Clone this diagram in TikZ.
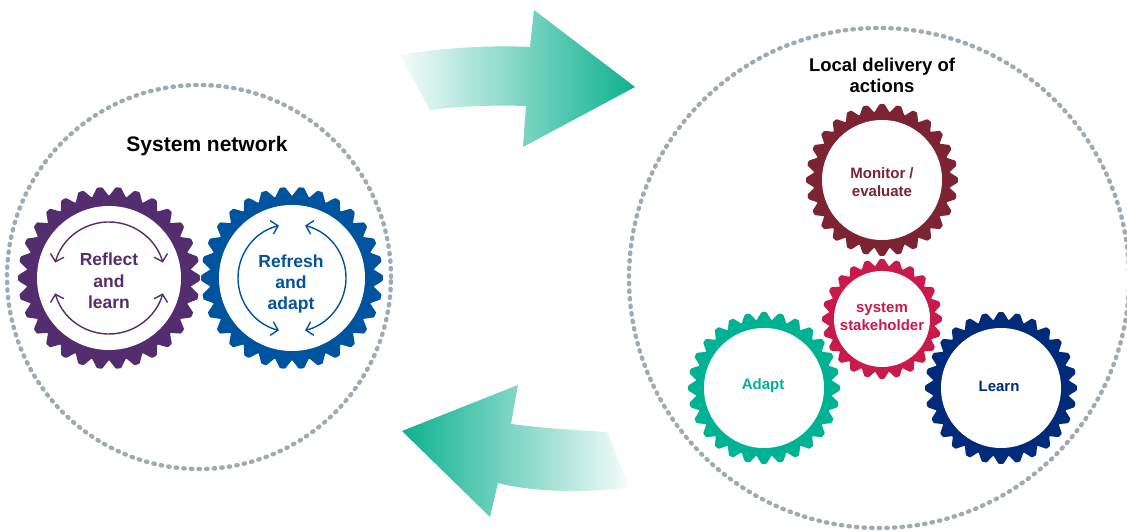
\documentclass[tikz,border=0pt]{standalone}
\usepackage{fontspec}
\setmainfont{Liberation Sans}
\usetikzlibrary{arrows.meta}

\definecolor{dotgrey}{HTML}{A0AAB2}
\definecolor{reflectpurple}{HTML}{532D6D}
\definecolor{refreshblue}{HTML}{00539F}
\definecolor{monitorred}{HTML}{7C2334}
\definecolor{stakered}{HTML}{C81A4B}
\definecolor{adaptgreen}{HTML}{00B294}
\definecolor{learnnavy}{HTML}{002A7A}
\definecolor{arrowteal}{HTML}{0DB18F}

\tikzset{
  heading/.style={font=\bfseries\fontsize{21}{25}\selectfont, align=center},
  subheading/.style={font=\bfseries\fontsize{18.5}{21}\selectfont, align=center},
  biglabel/.style={font=\bfseries\fontsize{17.5}{21.3}\selectfont, align=center},
  gearlabel/.style={font=\bfseries\fontsize{15}{18}\selectfont, align=center},
  dotring/.style={dotgrey, line width=4.4pt, line cap=round, dash pattern=on 1.4pt off 6.2pt},
  cyclearrow/.style={line width=1.4pt, {Straight Barb[length=6.5pt,width=14pt]}-{Straight Barb[length=6.5pt,width=14pt]}}
}

% gear wheel: centre, colour, teeth, base radius, tip radius, hole radius
\newcommand{\gearwheel}[6]{%
  \begin{scope}[shift={(#1)}]
    \pgfmathsetmacro{\gpitch}{360/#3}
    \fill[#2, rounded corners=0.8pt] ({-0.5*\gpitch}:#4)
      \foreach \k in {1,...,#3} {
        -- ({(\k-1-0.14)*\gpitch}:#5) -- ({(\k-1+0.14)*\gpitch}:#5) -- ({(\k-1+0.5)*\gpitch}:#4)
      } -- cycle;
    \fill[white] (0,0) circle[radius=#6];
  \end{scope}}

\begin{document}
\begin{tikzpicture}[x=1pt, y=1pt]
  \useasboundingbox (0,0) rectangle (1127,532);
  \clip (0,0) rectangle (1127,532);

  % dotted rings
  \coordinate (netring) at (199,255);
  \coordinate (localring) at (879,254);
  \draw[dotring] (netring) circle[radius=192pt];
  \draw[dotring] (localring) circle[radius=250pt];

  % gradient arrows
  \shade[left color=arrowteal!4, right color=arrowteal] (400,477) .. controls (440,484) and (490,487) .. (530,485)
    -- (534,522) -- (635,445) -- (523,385) -- (526,426) .. controls (495,427) and (460,426) .. (430,422) -- cycle; % to local delivery
  \shade[left color=arrowteal, right color=arrowteal!4] (402,101) -- (518,147) -- (511,108) .. controls (540,104) and (575,102) .. (607,100)
    -- (629,45) .. controls (600,40) and (540,38) .. (498,49) -- (490,15) -- cycle; % back to system network

  % system network
  \node[heading] (sysnet) at (207,386) {System network};
  \coordinate (reflectgear) at (109,254);
  \coordinate (refreshgear) at (292,254);
  \gearwheel{reflectgear}{reflectpurple}{30}{82}{91}{72}
  \gearwheel{refreshgear}{refreshblue}{30}{82}{91}{73}
  \node[biglabel, text=reflectpurple] (reflect) at (109,251) {Reflect\\and\\learn};
  \node[biglabel, text=refreshblue] (refresh) at (291,248) {Refresh\\and\\adapt};
  \draw[cyclearrow, reflectpurple] ([shift={(164:56pt)}]reflectgear) arc[start angle=164, end angle=16, radius=56pt];
  \draw[cyclearrow, reflectpurple] ([shift={(196:56pt)}]reflectgear) arc[start angle=196, end angle=344, radius=56pt];
  \draw[cyclearrow, refreshblue] ([shift={(104:54pt)}]refreshgear) arc[start angle=104, end angle=256, radius=54pt];
  \draw[cyclearrow, refreshblue] ([shift={(76:54pt)}]refreshgear) arc[start angle=76, end angle=-76, radius=54pt];

  % local delivery of actions
  \node[subheading] (localdel) at (882,457) {Local delivery of\\actions};
  \coordinate (monitorgear) at (882,352);
  \coordinate (stakegear) at (882,213);
  \coordinate (adaptgear) at (764,144);
  \coordinate (learngear) at (1001,144);
  \gearwheel{monitorgear}{monitorred}{28}{68}{76}{60}
  \gearwheel{stakegear}{stakered}{24}{53}{60}{48}
  \gearwheel{adaptgear}{adaptgreen}{28}{68}{76}{60}
  \gearwheel{learngear}{learnnavy}{28}{68}{76}{60}
  \node[gearlabel, text=monitorred] (monitor) at (882,350) {Monitor /\\evaluate};
  \node[gearlabel, text=stakered] (stake) at (882,215) {system\\stakeholder};
  \node[gearlabel, text=adaptgreen] (adapt) at (763,146) {Adapt};
  \node[gearlabel, text=learnnavy] (learn) at (999,146) {Learn};
\end{tikzpicture}
\end{document}
